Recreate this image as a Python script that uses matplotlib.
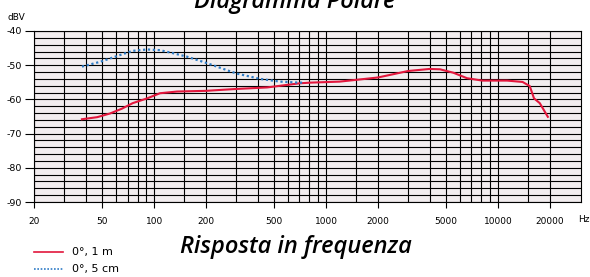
import matplotlib
matplotlib.use('Agg')
import matplotlib.pyplot as plt
from matplotlib.ticker import FixedLocator, NullFormatter
import numpy as np

plt.rcParams['axes.unicode_minus'] = False

# 0 deg, 1 m (red)
red_freq = [38, 46.6, 55.5, 65, 75, 91, 108, 136, 200, 288, 454, 700, 808, 1200,
            2000, 3000, 4000, 4600, 5500, 6600, 8100, 11300, 13900, 15300, 16200,
            17500, 19500]
red_db = [-65.8, -65.2, -64.1, -62.7, -61.1, -59.7, -58.2, -57.7, -57.5, -57.0,
          -56.5, -55.3, -55.1, -54.8, -53.6, -51.7, -51.1, -51.2, -52.2, -53.8,
          -54.5, -54.5, -54.9, -56.1, -59.7, -61.1, -65.1]

# 0 deg, 5 cm (blue dotted)
blue_freq = [38, 48.6, 61, 75, 91, 108, 129, 155, 200, 300, 413, 540, 700, 750]
blue_db = [-50.4, -49.0, -47.3, -45.8, -45.4, -45.6, -46.5, -47.5, -49.3, -52.4,
           -54.0, -54.8, -55.1, -55.1]

x_ticks = [20, 50, 100, 200, 500, 1000, 2000, 5000, 10000, 20000]
x_grid = [30, 40, 50, 60, 70, 80, 90, 100, 150, 200, 300, 400, 500, 600, 700, 800,
          900, 1000, 1500, 2000, 3000, 4000, 5000, 6000, 7000, 8000, 9000, 10000,
          15000, 20000]
y_ticks = [-40, -50, -60, -70, -80, -90]

RED = '#e2163c'
BLUE = '#2f7cc6'

fig = plt.figure(figsize=(5.9, 2.77), dpi=100)
ax = fig.add_axes([34 / 590, 1 - 202 / 277, (581 - 34) / 590, (202 - 31) / 277])
ax.set_facecolor('#f2edef')

ax.set_xscale('log')
ax.set_xlim(20, 30400)
ax.set_ylim(-90, -40)

ax.xaxis.set_major_locator(FixedLocator(x_ticks))
ax.xaxis.set_minor_locator(FixedLocator(x_grid))
ax.xaxis.set_minor_formatter(NullFormatter())
ax.set_xticklabels([str(t) for t in x_ticks])
ax.yaxis.set_major_locator(FixedLocator(y_ticks))
ax.yaxis.set_minor_locator(FixedLocator(np.arange(-88, -40, 2)))

ax.grid(which='both', color='black', linewidth=0.8)
ax.set_axisbelow(True)
ax.tick_params(which='minor', length=0)
ax.tick_params(axis='x', which='major', length=4.5, width=0.8, pad=6, labelsize=6.5)
ax.tick_params(axis='y', which='major', length=6.5, width=0.8, pad=2, labelsize=6.8)
for s in ax.spines.values():
    s.set_linewidth(0.8)

ax.plot(red_freq, red_db, color=RED, lw=1.5, label='0°, 1 m')
ax.plot(blue_freq, blue_db, color=BLUE, lw=1.6, linestyle=(0, (1, 1.2)), label='0°, 5 cm')

fig.text(8 / 590, 1 - 17 / 277, 'dBV', fontsize=6.5, va='center')
fig.text(578 / 590, 1 - 220 / 277, 'Hz', fontsize=6.5, va='center')

title_font = dict(family=['Open Sans', 'DejaVu Sans'], style='italic', weight='semibold',
                  fontsize=17)
fig.text(295 / 590, 1 - 8 / 277, 'Diagramma Polare', ha='center', va='baseline', **title_font)
fig.text(296 / 590, 1 - 253 / 277, 'Risposta in frequenza', ha='center', va='baseline', **title_font)

# legend drawn by hand below the axes
fig.lines.append(plt.Line2D([34 / 590, 63 / 590], [1 - 252 / 277] * 2, color=RED, lw=1.2,
                            transform=fig.transFigure))
fig.lines.append(plt.Line2D([34 / 590, 63 / 590], [1 - 269 / 277] * 2, color=BLUE, lw=1.2,
                            linestyle=(0, (1, 1)), transform=fig.transFigure))
fig.text(72 / 590, 1 - 252 / 277, '0°, 1 m', fontsize=8, va='center')
fig.text(72 / 590, 1 - 269 / 277, '0°, 5 cm', fontsize=8, va='center')

fig.savefig('out.png', dpi=100)
